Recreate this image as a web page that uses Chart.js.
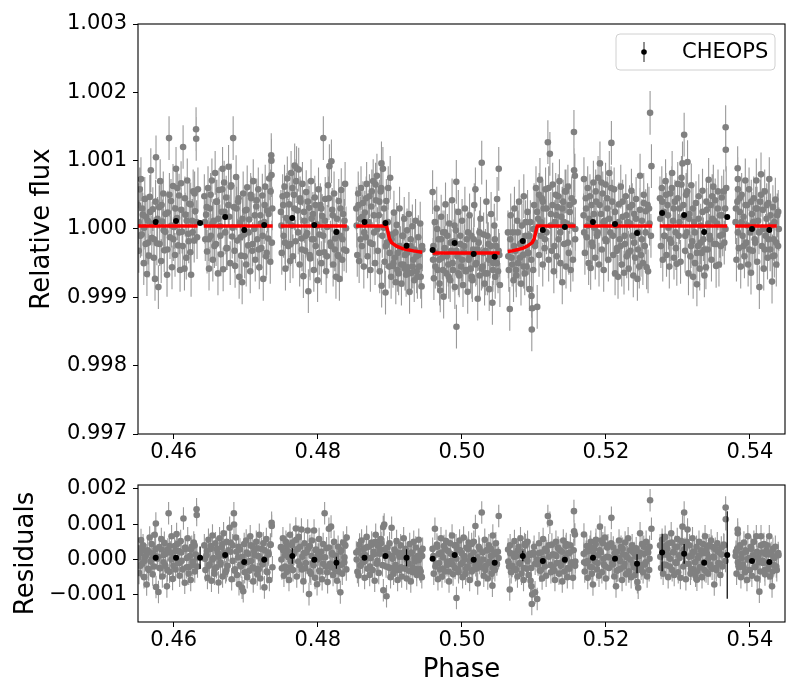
<!DOCTYPE html>
<html>
<head>
<meta charset="utf-8">
<title>CHEOPS phase curve</title>
<script src="https://cdn.jsdelivr.net/npm/chart.js@4.4.1/dist/chart.umd.min.js"></script>
<style>
  body { margin: 0; background: #fff; }
  #wrap { position: relative; width: 800px; height: 700px; }
  #wrap canvas { position: absolute; left: 0; }
</style>
</head>
<body>
<div id="wrap">
  <canvas id="fluxChart" width="800" height="465" style="top:0"></canvas>
  <canvas id="residChart" width="800" height="235" style="top:465px"></canvas>
</div>
<script>
// axis ranges and ticks
const xMin = 0.45504, xMax = 0.54486;
const xTicks = [0.46, 0.48, 0.50, 0.52, 0.54];
const fluxMin = 0.997, fluxMax = 1.003;
const fluxTicks = [0.997, 0.998, 0.999, 1.000, 1.001, 1.002, 1.003];
const residMin = -0.00177, residMax = 0.00211;
const residTicks = [-0.001, 0.000, 0.001, 0.002];

// typical error of a single CHEOPS point
const fluxErr = 0.00032;
const residErr = 0.00032;

// CHEOPS points [phase, relative flux], one line per visit
const fluxPoints = [
  [0.45505,1.00035],[0.45515,0.99968],[0.45528,1.00058],[0.45545,1.00073],[0.45556,0.99992],[0.45570,1.00021],[0.45584,0.99950],[0.45598,1.00044],[0.45610,0.99978],[0.45628,0.99934],[0.45640,1.00012],[0.45655,0.99961],[0.45668,1.00047],[0.45682,1.00086],[0.45695,0.99987],[0.45710,1.00029],[0.45724,0.99958],[0.45740,0.99927],[0.45754,1.00105],[0.45766,0.99979],[0.45787,0.99915],[0.45798,1.00032],[0.45812,1.00070],[0.45826,0.99953],[0.45840,1.00011],[0.45855,1.00052],[0.45868,0.99969],[0.45882,0.99996],[0.45907,0.99933],[0.45918,1.00024],[0.45935,1.00133],[0.45948,0.99988],[0.45962,1.00041],[0.45976,0.99944],[0.45990,1.00063],[0.46004,1.00003],[0.46018,0.99962],[0.46032,1.00088],[0.46046,1.00016],[0.46060,0.99976],[0.46074,1.00049],[0.46088,0.99940],[0.46102,1.00067],[0.46116,0.99996],[0.46130,1.00120],[0.46149,0.99942],[0.46160,1.00021],[0.46174,0.99958],[0.46188,1.00071],[0.46202,0.99993],[0.46216,1.00037],[0.46230,0.99966],[0.46241,0.99933],[0.46256,1.00012],[0.46270,1.00055],[0.46284,0.99983],[0.46298,1.00026],[0.46310,1.00146],[0.46312,1.00132],[0.46324,0.99988],[0.46336,1.00058],
  [0.46425,1.00048],[0.46438,0.99985],[0.46450,1.00021],[0.46463,0.99967],[0.46476,1.00060],[0.46490,0.99942],[0.46503,1.00030],[0.46516,0.99990],[0.46530,1.00071],[0.46543,0.99955],[0.46556,1.00012],[0.46575,1.00082],[0.46588,0.99978],[0.46600,1.00040],[0.46614,0.99935],[0.46628,1.00057],[0.46642,1.00004],[0.46655,0.99963],[0.46668,1.00025],[0.46678,1.00088],[0.46686,0.99941],[0.46700,1.00068],[0.46714,0.99995],[0.46728,1.00046],[0.46742,0.99972],[0.46761,1.00091],[0.46770,1.00018],[0.46784,0.99950],[0.46798,1.00064],[0.46812,0.99989],[0.46825,1.00133],[0.46838,1.00032],[0.46852,0.99946],[0.46866,1.00076],[0.46880,0.99983],[0.46894,1.00040],[0.46908,0.99930],[0.46922,1.00009],[0.46936,0.99961],[0.46950,0.99922],[0.46964,1.00052],[0.46978,0.99992],[0.46992,1.00027],[0.47006,0.99948],[0.47020,1.00061],[0.47034,0.99976],[0.47048,1.00014],[0.47062,0.99938],[0.47076,1.00045],[0.47090,0.99968],[0.47104,1.00070],[0.47118,1.00000],[0.47132,0.99955],[0.47146,1.00033],[0.47160,0.99985],[0.47174,1.00058],[0.47188,0.99944],[0.47202,1.00020],[0.47216,0.99972],[0.47230,1.00049],[0.47243,0.99927],[0.47256,1.00010],[0.47270,1.00062],[0.47284,0.99960],[0.47298,1.00027],[0.47312,0.99986],[0.47326,1.00074],[0.47340,0.99952],[0.47354,1.00108],[0.47356,1.00100],[0.47358,1.00079],[0.47362,0.99980],[0.47368,1.00030],
  [0.47488,1.00025],[0.47500,0.99965],[0.47512,1.00048],[0.47525,0.99990],[0.47538,1.00062],[0.47551,0.99942],[0.47564,1.00016],[0.47577,1.00074],[0.47590,0.99975],[0.47603,1.00036],[0.47616,0.99953],[0.47629,1.00082],[0.47642,1.00005],[0.47655,0.99960],[0.47668,1.00050],[0.47679,1.00093],[0.47692,0.99982],[0.47705,1.00089],[0.47718,1.00027],[0.47735,1.00087],[0.47748,0.99948],[0.47761,1.00040],[0.47774,0.99986],[0.47787,1.00066],[0.47800,0.99931],[0.47813,1.00012],[0.47826,0.99968],[0.47839,1.00054],[0.47852,0.99994],[0.47869,0.99909],[0.47880,1.00031],[0.47893,0.99957],[0.47906,1.00070],[0.47919,0.99985],[0.47932,1.00022],[0.47945,0.99940],[0.47958,1.00046],[0.47971,0.99975],[0.47984,1.00007],[0.47997,0.99925],[0.48010,1.00058],[0.48023,0.99992],[0.48036,1.00035],[0.48049,0.99950],[0.48062,1.00019],[0.48077,1.00133],[0.48090,0.99966],[0.48103,1.00044],[0.48116,0.99938],[0.48129,1.00003],[0.48142,1.00064],[0.48161,1.00092],[0.48175,0.99980],[0.48189,1.00099],[0.48200,1.00028],[0.48213,0.99948],[0.48226,1.00052],[0.48239,0.99986],[0.48252,0.99930],[0.48265,1.00015],[0.48278,0.99962],[0.48291,1.00041],[0.48300,0.99927],[0.48313,0.99990],[0.48326,1.00057],[0.48339,0.99955],[0.48352,1.00022],[0.48365,0.99970],[0.48379,1.00066],[0.48392,1.00001],
  [0.48535,1.00030],[0.48548,0.99962],[0.48561,1.00052],[0.48574,0.99953],[0.48587,1.00015],[0.48600,1.00060],[0.48613,0.99975],[0.48626,1.00038],[0.48639,0.99945],[0.48652,1.00024],[0.48665,0.99988],[0.48678,1.00066],[0.48691,0.99960],[0.48704,1.00010],[0.48717,1.00048],[0.48730,0.99940],[0.48743,1.00033],[0.48756,0.99978],[0.48769,1.00070],[0.48782,0.99995],[0.48795,0.99950],[0.48808,1.00042],[0.48821,1.00078],[0.48834,0.99968],[0.48847,1.00020],[0.48860,0.99938],[0.48873,1.00055],[0.48884,1.00096],[0.48886,0.99917],[0.48904,1.00088],[0.48915,1.00002],[0.48928,0.99952],[0.48940,0.99907],[0.48952,1.00041],[0.48965,0.99980],[0.48978,1.00060],[0.48991,0.99945],[0.49005,1.00075],[0.49018,0.99930],[0.49031,0.99992],[0.49044,0.99946],[0.49057,1.00024],[0.49070,0.99958],[0.49083,0.99922],[0.49096,1.00006],[0.49109,0.99965],[0.49122,0.99935],[0.49135,1.00030],[0.49148,0.99972],[0.49161,0.99920],[0.49174,0.99990],[0.49187,0.99948],[0.49200,1.00015],[0.49213,0.99962],[0.49226,0.99933],[0.49239,0.99998],[0.49252,0.99944],[0.49265,1.00022],[0.49274,0.99908],[0.49287,0.99975],[0.49300,0.99936],[0.49313,1.00004],[0.49326,0.99955],[0.49339,0.99925],[0.49357,1.00012],[0.49370,0.99960],[0.49383,0.99930],[0.49396,0.99988],[0.49409,0.99945],[0.49422,1.00008],[0.49441,0.99916],[0.49452,0.99970],
  [0.49594,1.00054],[0.49600,0.99955],[0.49612,0.99928],[0.49625,1.00010],[0.49638,0.99965],[0.49651,1.00030],[0.49664,0.99940],[0.49677,0.99985],[0.49690,0.99920],[0.49700,0.99910],[0.49713,1.00018],[0.49726,0.99958],[0.49739,0.99995],[0.49747,0.99901],[0.49760,0.99972],[0.49773,1.00036],[0.49786,0.99935],[0.49799,0.99990],[0.49812,0.99948],[0.49825,1.00008],[0.49838,0.99925],[0.49851,0.99968],[0.49864,1.00042],[0.49877,0.99940],[0.49890,0.99982],[0.49903,0.99915],[0.49916,0.99998],[0.49923,1.00069],[0.49925,0.99857],[0.49938,0.99960],[0.49951,1.00025],[0.49964,0.99932],[0.49977,0.99978],[0.49990,0.99945],[0.50003,1.00012],[0.50016,0.99918],[0.50029,0.99966],[0.50042,1.00030],[0.50055,0.99938],[0.50068,0.99985],[0.50081,0.99908],[0.50094,0.99955],[0.50107,1.00020],[0.50120,0.99942],[0.50133,0.99990],[0.50146,0.99925],[0.50159,0.99970],[0.50172,1.00035],[0.50188,1.00058],[0.50200,0.99950],[0.50220,0.99898],[0.50233,0.99980],[0.50246,0.99932],[0.50259,1.00015],[0.50276,1.00097],[0.50289,0.99945],[0.50302,0.99992],[0.50315,0.99920],[0.50328,0.99968],[0.50341,1.00040],[0.50354,0.99935],[0.50367,0.99978],[0.50380,0.99912],[0.50393,0.99960],[0.50406,1.00022],[0.50424,0.99892],[0.50437,0.99950],[0.50450,1.00005],[0.50463,0.99930],[0.50476,0.99975],[0.50489,1.00044],[0.50502,0.99938],[0.50512,1.00088],[0.50520,0.99962],[0.50528,0.99918],
  [0.50640,0.99995],[0.50652,0.99940],[0.50665,0.99883],[0.50678,1.00020],[0.50691,0.99958],[0.50704,0.99995],[0.50717,0.99925],[0.50730,1.00030],[0.50743,0.99968],[0.50756,0.99932],[0.50769,1.00012],[0.50782,0.99950],[0.50795,1.00040],[0.50808,0.99978],[0.50821,0.99920],[0.50834,1.00005],[0.50847,0.99962],[0.50860,1.00048],[0.50873,0.99935],[0.50886,0.99990],[0.50899,0.99945],[0.50912,1.00025],[0.50925,0.99965],[0.50938,0.99912],[0.50951,1.00010],[0.50967,0.99902],[0.50971,0.99853],[0.50977,0.99884],[0.50990,0.99940],[0.51003,1.00035],[0.51016,0.99975],[0.51029,1.00060],[0.51046,0.99886],[0.51058,1.00015],[0.51071,0.99962],[0.51084,1.00072],[0.51097,0.99990],[0.51110,1.00045],[0.51123,0.99948],[0.51136,1.00030],[0.51149,0.99972],[0.51162,1.00058],[0.51175,0.99995],[0.51194,1.00127],[0.51205,0.99955],[0.51222,1.00110],[0.51235,1.00022],[0.51248,0.99968],[0.51261,1.00065],[0.51277,0.99938],[0.51290,1.00010],[0.51303,1.00050],[0.51316,0.99960],[0.51329,1.00032],[0.51342,0.99985],[0.51355,1.00070],[0.51368,0.99950],[0.51381,1.00018],[0.51394,0.99922],[0.51407,1.00040],[0.51420,0.99978],[0.51433,1.00055],[0.51446,0.99945],[0.51459,1.00008],[0.51472,1.00062],[0.51485,0.99965],[0.51498,1.00025],[0.51511,0.99940],[0.51524,1.00045],[0.51542,0.99955],[0.51556,1.00142],[0.51558,1.00086],[0.51569,1.00078],[0.51575,1.00000],
  [0.51690,1.00020],[0.51695,1.00073],[0.51708,0.99965],[0.51721,1.00045],[0.51734,0.99988],[0.51747,1.00060],[0.51760,0.99950],[0.51773,1.00015],[0.51788,0.99943],[0.51800,1.00035],[0.51813,0.99975],[0.51826,1.00068],[0.51839,1.00002],[0.51852,0.99958],[0.51865,1.00040],[0.51878,0.99990],[0.51891,1.00075],[0.51904,0.99948],[0.51917,1.00096],[0.51930,1.00022],[0.51943,0.99970],[0.51956,1.00052],[0.51969,0.99940],[0.51982,1.00012],[0.51995,1.00065],[0.52008,0.99982],[0.52021,1.00030],[0.52034,0.99955],[0.52047,1.00082],[0.52060,0.99995],[0.52076,1.00126],[0.52088,1.00040],[0.52101,0.99962],[0.52114,1.00058],[0.52127,0.99935],[0.52140,1.00005],[0.52153,0.99972],[0.52168,0.99930],[0.52180,1.00036],[0.52193,0.99985],[0.52206,1.00062],[0.52219,0.99948],[0.52232,1.00018],[0.52251,0.99936],[0.52263,0.99978],[0.52276,1.00048],[0.52289,0.99960],[0.52302,1.00010],[0.52315,0.99942],[0.52328,1.00032],[0.52341,0.99968],[0.52354,1.00056],[0.52367,0.99990],[0.52380,0.99932],[0.52393,1.00022],[0.52406,0.99958],[0.52419,1.00044],[0.52437,0.99927],[0.52450,0.99995],[0.52463,0.99945],[0.52474,1.00078],[0.52487,0.99962],[0.52500,1.00012],[0.52513,0.99950],[0.52526,1.00038],[0.52539,0.99975],[0.52552,1.00026],[0.52565,0.99944],[0.52585,0.99938],[0.52598,1.00030],[0.52613,1.00170],[0.52625,0.99990],[0.52632,1.00092],
  [0.52750,1.00045],[0.52763,0.99975],[0.52776,1.00060],[0.52789,0.99955],[0.52802,1.00025],[0.52815,0.99990],[0.52828,1.00070],[0.52841,0.99962],[0.52854,1.00035],[0.52867,1.00002],[0.52880,0.99945],[0.52893,1.00052],[0.52906,0.99980],[0.52919,1.00082],[0.52932,1.00012],[0.52945,0.99958],[0.52958,1.00040],[0.52971,0.99972],[0.52984,0.99949],[0.52997,1.00066],[0.53010,0.99990],[0.53023,1.00030],[0.53036,0.99952],[0.53049,1.00075],[0.53063,1.00096],[0.53075,1.00018],[0.53086,1.00138],[0.53099,0.99968],[0.53112,1.00050],[0.53125,0.99995],[0.53133,1.00098],[0.53146,0.99935],[0.53159,1.00022],[0.53172,0.99960],[0.53185,1.00064],[0.53198,0.99982],[0.53211,0.99930],[0.53224,1.00010],[0.53237,0.99950],[0.53250,1.00038],[0.53263,0.99919],[0.53276,0.99975],[0.53289,1.00048],[0.53302,0.99942],[0.53315,1.00005],[0.53328,0.99965],[0.53341,1.00056],[0.53354,0.99985],[0.53367,0.99932],[0.53388,0.99944],[0.53400,1.00028],[0.53413,0.99970],[0.53426,1.00072],[0.53439,0.99990],[0.53452,1.00035],[0.53465,0.99955],[0.53478,1.00015],[0.53491,1.00062],[0.53504,0.99978],[0.53517,1.00042],[0.53530,0.99946],[0.53543,1.00008],[0.53556,1.00055],[0.53569,0.99948],[0.53582,1.00020],[0.53595,0.99975],[0.53608,1.00046],[0.53621,0.99992],[0.53643,0.99980],[0.53655,1.00030],[0.53662,1.00149],[0.53664,1.00116],[0.53670,1.00060],
  [0.53800,1.00010],[0.53812,0.99955],[0.53825,1.00040],[0.53829,1.00089],[0.53831,1.00073],[0.53833,1.00058],[0.53845,0.99972],[0.53858,1.00025],[0.53871,0.99945],[0.53884,1.00050],[0.53897,0.99990],[0.53910,1.00018],[0.53923,0.99960],[0.53935,1.00071],[0.53948,0.99980],[0.53961,1.00035],[0.53974,0.99948],[0.53987,1.00058],[0.54000,0.99995],[0.54014,0.99936],[0.54026,1.00022],[0.54039,0.99968],[0.54052,1.00045],[0.54065,0.99985],[0.54078,1.00030],[0.54088,1.00071],[0.54100,0.99952],[0.54113,1.00012],[0.54130,0.99915],[0.54142,1.00040],[0.54153,1.00080],[0.54165,0.99975],[0.54178,1.00028],[0.54191,0.99942],[0.54204,1.00055],[0.54217,0.99990],[0.54230,1.00015],[0.54243,0.99958],[0.54256,1.00038],[0.54268,1.00073],[0.54280,0.99970],[0.54293,1.00005],[0.54306,0.99923],[0.54318,1.00032],[0.54330,0.99985],[0.54338,0.99961],[0.54352,1.00043],[0.54365,0.99948],[0.54378,1.00020],[0.54390,0.99975],[0.54400,1.00000],
  // denser core of each visit
  [0.45512,1.00010],[0.45538,0.99990],[0.45562,1.00030],[0.45590,1.00002],[0.45615,1.00018],[0.45645,0.99980],[0.45672,1.00025],[0.45700,1.00008],[0.45728,0.99985],[0.45748,1.00040],[0.45775,1.00015],[0.45805,0.99978],[0.45832,1.00035],[0.45860,0.99998],[0.45888,1.00022],[0.45912,0.99970],[0.45940,1.00050],[0.45968,1.00005],[0.45995,0.99985],[0.46022,1.00030],[0.46050,1.00060],[0.46078,0.99995],[0.46105,1.00028],[0.46125,0.99975],[0.46155,1.00045],[0.46180,1.00012],[0.46208,0.99982],[0.46235,1.00036],[0.46262,0.99995],[0.46290,1.00052],[0.46318,1.00010],
  [0.46432,1.00010],[0.46458,1.00032],[0.46485,0.99985],[0.46512,1.00050],[0.46538,1.00008],[0.46565,0.99975],[0.46592,1.00040],[0.46620,1.00015],[0.46648,0.99990],[0.46675,1.00058],[0.46705,1.00025],[0.46732,0.99972],[0.46758,1.00035],[0.46790,1.00062],[0.46818,1.00002],[0.46845,0.99968],[0.46872,1.00030],[0.46900,1.00045],[0.46928,0.99988],[0.46955,1.00015],[0.46985,0.99960],[0.47012,1.00028],[0.47040,0.99995],[0.47068,1.00050],[0.47095,0.99978],[0.47125,1.00020],[0.47152,1.00042],[0.47180,0.99970],[0.47208,1.00008],[0.47235,0.99990],[0.47262,1.00035],[0.47290,0.99965],[0.47318,1.00022],[0.47345,1.00055],
  [0.47495,1.00005],[0.47520,1.00035],[0.47545,0.99980],[0.47570,1.00050],[0.47595,1.00012],[0.47622,0.99978],[0.47648,1.00060],[0.47675,1.00030],[0.47700,1.00070],[0.47728,0.99995],[0.47755,1.00045],[0.47780,0.99970],[0.47808,1.00025],[0.47835,0.99990],[0.47862,1.00040],[0.47888,0.99962],[0.47915,1.00015],[0.47942,0.99985],[0.47968,1.00035],[0.47995,1.00005],[0.48020,0.99965],[0.48048,1.00030],[0.48075,0.99990],[0.48100,1.00012],[0.48128,0.99960],[0.48155,1.00045],[0.48182,0.99975],[0.48208,1.00020],[0.48235,0.99970],[0.48262,0.99995],[0.48288,0.99960],[0.48315,1.00030],[0.48342,0.99985],[0.48370,1.00012],[0.48396,0.99968],
  [0.48540,1.00005],[0.48566,1.00035],[0.48592,0.99985],[0.48618,1.00018],[0.48645,0.99995],[0.48672,1.00045],[0.48698,1.00010],[0.48725,0.99980],[0.48750,1.00055],[0.48778,1.00020],[0.48802,1.00065],[0.48828,1.00000],[0.48855,1.00040],[0.48880,1.00060],[0.48895,0.99990],[0.48920,1.00030],[0.48945,0.99975],[0.48972,1.00010],[0.48998,0.99965],[0.49025,0.99985],[0.49050,0.99950],[0.49078,0.99995],[0.49105,0.99940],[0.49130,0.99975],[0.49158,0.99948],[0.49185,0.99990],[0.49210,0.99942],[0.49238,0.99965],[0.49262,0.99935],[0.49290,0.99985],[0.49318,0.99945],[0.49345,0.99970],[0.49372,0.99938],[0.49400,0.99962],[0.49428,0.99930],[0.49448,0.99975],
  [0.49605,0.99975],[0.49632,0.99945],[0.49658,1.00000],[0.49685,0.99955],[0.49712,0.99985],[0.49738,0.99940],[0.49765,0.99995],[0.49792,0.99960],[0.49818,0.99930],[0.49845,0.99980],[0.49872,0.99950],[0.49898,1.00005],[0.49925,0.99968],[0.49952,0.99935],[0.49978,0.99990],[0.50005,0.99955],[0.50032,0.99975],[0.50058,0.99940],[0.50085,0.99995],[0.50112,0.99960],[0.50138,0.99930],[0.50165,0.99985],[0.50192,0.99948],[0.50218,0.99970],[0.50245,0.99995],[0.50272,0.99942],[0.50298,0.99965],[0.50325,0.99935],[0.50352,0.99990],[0.50378,0.99955],[0.50405,0.99975],[0.50432,0.99940],[0.50458,0.99985],[0.50485,0.99950],[0.50510,0.99968],
  [0.50645,0.99960],[0.50672,0.99985],[0.50698,0.99948],[0.50725,0.99975],[0.50752,0.99940],[0.50778,0.99995],[0.50805,0.99958],[0.50832,0.99980],[0.50858,0.99945],[0.50885,1.00010],[0.50912,0.99965],[0.50938,0.99990],[0.50965,0.99955],[0.50992,1.00000],[0.51018,0.99980],[0.51045,1.00025],[0.51072,1.00050],[0.51098,1.00010],[0.51125,1.00040],[0.51152,0.99985],[0.51178,1.00030],[0.51205,1.00060],[0.51232,1.00005],[0.51258,1.00035],[0.51285,0.99975],[0.51312,1.00020],[0.51338,1.00048],[0.51365,0.99995],[0.51392,1.00030],[0.51418,1.00010],[0.51445,1.00055],[0.51472,0.99980],[0.51498,1.00035],[0.51525,1.00005],[0.51552,1.00040],[0.51572,0.99985],
  [0.51698,0.99995],[0.51725,1.00030],[0.51752,1.00005],[0.51778,1.00048],[0.51805,0.99980],[0.51832,1.00022],[0.51858,1.00055],[0.51885,0.99995],[0.51912,1.00035],[0.51938,1.00068],[0.51965,1.00010],[0.51992,0.99985],[0.52018,1.00045],[0.52045,1.00015],[0.52072,1.00060],[0.52098,0.99990],[0.52125,1.00025],[0.52152,0.99968],[0.52178,1.00010],[0.52205,0.99975],[0.52232,1.00040],[0.52258,0.99990],[0.52285,1.00020],[0.52312,0.99965],[0.52338,1.00008],[0.52365,1.00035],[0.52392,0.99980],[0.52418,1.00015],[0.52445,0.99970],[0.52472,1.00028],[0.52498,0.99985],[0.52525,1.00050],[0.52552,0.99995],[0.52578,1.00035],[0.52605,1.00008],
  [0.52755,1.00015],[0.52782,1.00040],[0.52808,0.99990],[0.52835,1.00050],[0.52862,1.00020],[0.52888,0.99985],[0.52915,1.00060],[0.52942,1.00030],[0.52968,0.99995],[0.52995,1.00045],[0.53022,1.00010],[0.53048,1.00065],[0.53075,1.00035],[0.53102,0.99990],[0.53128,1.00055],[0.53155,1.00015],[0.53182,0.99975],[0.53208,1.00030],[0.53235,0.99995],[0.53262,0.99965],[0.53288,1.00015],[0.53315,0.99980],[0.53342,1.00025],[0.53368,0.99970],[0.53395,1.00040],[0.53422,1.00008],[0.53448,0.99985],[0.53475,1.00048],[0.53502,1.00012],[0.53528,0.99978],[0.53555,1.00030],[0.53582,0.99990],[0.53608,1.00020],[0.53635,1.00055],[0.53660,1.00000],
  [0.53805,1.00030],[0.53832,0.99995],[0.53858,1.00045],[0.53885,1.00010],[0.53912,0.99975],[0.53938,1.00035],[0.53965,1.00005],[0.53992,0.99970],[0.54018,1.00040],[0.54045,1.00010],[0.54072,0.99980],[0.54098,1.00030],[0.54125,0.99995],[0.54152,1.00050],[0.54178,1.00000],[0.54205,0.99970],[0.54232,1.00035],[0.54258,0.99985],[0.54285,1.00020],[0.54312,0.99960],[0.54338,1.00010],[0.54365,0.99980],[0.54392,1.00025]
];

// residuals [phase, data - model], one line per visit
const residPoints = [
  [0.45505,0.00032],[0.45518,-0.00038],[0.45532,0.00018],[0.45546,0.00055],[0.45560,-0.00012],[0.45574,0.00040],[0.45588,-0.00050],[0.45602,0.00008],[0.45624,-0.00071],[0.45638,0.00026],[0.45652,-0.00030],[0.45666,0.00062],[0.45680,-0.00006],[0.45694,0.00044],[0.45708,-0.00042],[0.45722,0.00015],[0.45736,0.00070],[0.45752,0.00102],[0.45754,-0.00078],[0.45770,0.00002],[0.45788,-0.00092],[0.45800,0.00035],[0.45814,-0.00025],[0.45828,0.00058],[0.45842,-0.00048],[0.45856,0.00012],[0.45870,0.00047],[0.45884,-0.00018],[0.45905,-0.00076],[0.45918,0.00028],[0.45929,0.00131],[0.45942,-0.00035],[0.45956,0.00020],[0.45970,0.00066],[0.45984,-0.00055],[0.45998,0.00005],[0.46012,0.00038],[0.46026,-0.00028],[0.46040,0.00072],[0.46054,-0.00010],[0.46068,0.00024],[0.46082,-0.00046],[0.46096,0.00052],[0.46110,-0.00004],[0.46135,0.00116],[0.46153,-0.00066],[0.46166,0.00030],[0.46180,-0.00022],[0.46194,0.00060],[0.46208,-0.00040],[0.46222,0.00010],[0.46236,-0.00058],[0.46250,0.00036],[0.46264,-0.00016],[0.46278,0.00048],[0.46292,-0.00034],[0.46306,0.00014],[0.46317,0.00142],[0.46319,0.00126],[0.46330,-0.00020],
  [0.46425,0.00040],[0.46440,-0.00030],[0.46454,0.00012],[0.46468,-0.00052],[0.46482,0.00056],[0.46496,-0.00014],[0.46510,0.00030],[0.46524,-0.00060],[0.46538,0.00068],[0.46552,0.00004],[0.46566,-0.00040],[0.46580,0.00046],[0.46594,-0.00022],[0.46608,0.00020],[0.46622,-0.00065],[0.46636,0.00060],[0.46650,-0.00008],[0.46664,0.00034],[0.46678,-0.00048],[0.46692,0.00074],[0.46706,0.00010],[0.46720,-0.00036],[0.46734,0.00050],[0.46748,-0.00018],[0.46776,0.00090],[0.46790,0.00022],[0.46804,-0.00056],[0.46818,0.00040],[0.46835,0.00131],[0.46837,0.00099],[0.46850,-0.00028],[0.46864,0.00062],[0.46878,-0.00044],[0.46892,0.00006],[0.46906,-0.00070],[0.46920,0.00028],[0.46934,-0.00020],[0.46948,-0.00080],[0.46965,-0.00090],[0.46978,0.00044],[0.46992,-0.00010],[0.47006,0.00054],[0.47020,-0.00050],[0.47034,0.00016],[0.47048,-0.00032],[0.47062,0.00066],[0.47076,-0.00004],[0.47090,0.00038],[0.47104,-0.00062],[0.47118,0.00024],[0.47132,-0.00026],[0.47146,0.00050],[0.47160,-0.00042],[0.47174,0.00010],[0.47188,0.00070],[0.47202,-0.00054],[0.47216,0.00030],[0.47230,-0.00014],[0.47244,0.00046],[0.47259,-0.00079],[0.47272,0.00002],[0.47286,0.00058],[0.47300,-0.00036],[0.47314,0.00020],[0.47328,-0.00058],[0.47342,0.00042],[0.47359,0.00104],[0.47361,0.00095],[0.47370,-0.00022],
  [0.47488,0.00035],[0.47502,-0.00025],[0.47516,0.00060],[0.47530,-0.00046],[0.47544,0.00012],[0.47558,0.00050],[0.47572,-0.00035],[0.47586,0.00024],[0.47600,-0.00058],[0.47614,0.00070],[0.47628,-0.00006],[0.47642,0.00040],[0.47656,-0.00030],[0.47670,0.00016],[0.47695,0.00088],[0.47708,-0.00048],[0.47722,0.00030],[0.47736,0.00064],[0.47750,-0.00016],[0.47773,0.00085],[0.47786,0.00008],[0.47800,-0.00062],[0.47814,0.00046],[0.47828,-0.00024],[0.47842,0.00020],[0.47860,0.00082],[0.47878,-0.00098],[0.47890,0.00038],[0.47904,-0.00040],[0.47918,0.00054],[0.47932,-0.00010],[0.47948,0.00082],[0.47962,-0.00052],[0.47976,0.00028],[0.47990,-0.00070],[0.48004,0.00014],[0.48018,0.00058],[0.48032,-0.00034],[0.48046,0.00006],[0.48060,-0.00056],[0.48074,0.00044],[0.48095,0.00131],[0.48108,-0.00020],[0.48122,0.00032],[0.48136,-0.00064],[0.48154,0.00087],[0.48170,-0.00012],[0.48184,0.00093],[0.48198,0.00018],[0.48212,-0.00044],[0.48226,0.00050],[0.48240,-0.00028],[0.48254,0.00010],[0.48268,-0.00060],[0.48282,0.00036],[0.48296,-0.00018],[0.48313,-0.00093],[0.48326,0.00026],[0.48340,-0.00040],[0.48354,0.00048],[0.48368,-0.00008],[0.48382,0.00040],[0.48401,0.00062],
  [0.48535,0.00020],[0.48550,-0.00035],[0.48566,-0.00045],[0.48580,0.00042],[0.48594,-0.00018],[0.48608,0.00054],[0.48622,-0.00008],[0.48636,0.00030],[0.48650,-0.00052],[0.48664,0.00012],[0.48678,0.00064],[0.48692,-0.00026],[0.48706,0.00036],[0.48720,-0.00044],[0.48734,0.00004],[0.48748,0.00048],[0.48762,-0.00030],[0.48776,0.00022],[0.48790,-0.00060],[0.48804,0.00070],[0.48818,-0.00012],[0.48832,0.00040],[0.48846,-0.00038],[0.48860,0.00016],[0.48874,0.00058],[0.48908,0.00092],[0.48910,-0.00087],[0.48922,0.00099],[0.48936,0.00010],[0.48954,-0.00104],[0.48968,0.00034],[0.48982,-0.00022],[0.48996,0.00046],[0.49010,-0.00050],[0.49025,0.00090],[0.49038,0.00002],[0.49052,-0.00040],[0.49066,0.00028],[0.49080,-0.00016],[0.49094,0.00052],[0.49108,-0.00058],[0.49122,0.00018],[0.49136,-0.00030],[0.49150,0.00040],[0.49164,-0.00048],[0.49178,0.00008],[0.49192,0.00060],[0.49206,-0.00024],[0.49220,0.00030],[0.49234,-0.00054],[0.49248,0.00014],[0.49262,-0.00012],[0.49276,0.00044],[0.49291,-0.00062],[0.49304,0.00020],[0.49318,-0.00036],[0.49332,0.00050],[0.49346,-0.00006],[0.49360,0.00034],[0.49374,-0.00044],[0.49388,0.00010],[0.49402,0.00056],[0.49416,-0.00028],[0.49430,0.00024],[0.49444,-0.00050],[0.49455,0.00030],
  [0.49594,0.00030],[0.49610,-0.00040],[0.49626,0.00087],[0.49640,-0.00012],[0.49654,0.00042],[0.49668,-0.00056],[0.49682,0.00016],[0.49696,-0.00028],[0.49710,0.00060],[0.49724,-0.00048],[0.49738,0.00006],[0.49752,0.00038],[0.49766,-0.00034],[0.49780,0.00052],[0.49794,-0.00016],[0.49808,0.00024],[0.49822,-0.00062],[0.49836,0.00046],[0.49850,-0.00004],[0.49864,0.00068],[0.49878,-0.00042],[0.49892,0.00012],[0.49906,-0.00024],[0.49920,0.00040],[0.49925,-0.00109],[0.49940,0.00028],[0.49954,-0.00036],[0.49968,0.00054],[0.49982,-0.00014],[0.49996,0.00018],[0.50010,-0.00050],[0.50024,0.00062],[0.50038,0.00000],[0.50052,-0.00040],[0.50066,0.00034],[0.50080,-0.00020],[0.50094,0.00048],[0.50108,-0.00058],[0.50122,0.00010],[0.50136,0.00044],[0.50150,-0.00030],[0.50166,0.00050],[0.50188,0.00095],[0.50205,-0.00026],[0.50220,-0.00068],[0.50234,0.00036],[0.50248,-0.00010],[0.50276,0.00133],[0.50290,0.00020],[0.50304,-0.00046],[0.50318,0.00056],[0.50332,-0.00018],[0.50346,0.00026],[0.50360,-0.00054],[0.50374,0.00040],[0.50388,-0.00006],[0.50402,0.00030],[0.50414,-0.00040],[0.50424,-0.00074],[0.50430,0.00068],[0.50444,0.00014],[0.50458,-0.00030],[0.50472,0.00046],[0.50486,-0.00012],[0.50500,0.00022],[0.50512,0.00123],
  [0.50642,0.00028],[0.50656,-0.00020],[0.50665,-0.00085],[0.50670,0.00040],[0.50685,-0.00036],[0.50716,0.00016],[0.50730,0.00052],[0.50744,-0.00030],[0.50758,0.00010],[0.50772,-0.00048],[0.50786,0.00036],[0.50800,-0.00012],[0.50814,0.00060],[0.50828,-0.00040],[0.50842,0.00022],[0.50856,-0.00058],[0.50870,0.00044],[0.50884,0.00002],[0.50898,-0.00026],[0.50912,0.00050],[0.50926,-0.00044],[0.50940,0.00012],[0.50954,-0.00060],[0.50967,-0.00076],[0.50971,-0.00126],[0.50977,-0.00099],[0.50990,0.00020],[0.51003,0.00036],[0.51016,-0.00093],[0.51046,-0.00112],[0.51058,-0.00014],[0.51071,0.00046],[0.51084,-0.00032],[0.51100,0.00020],[0.51114,-0.00054],[0.51128,0.00058],[0.51142,-0.00008],[0.51156,0.00030],[0.51170,-0.00046],[0.51194,0.00123],[0.51208,0.00008],[0.51222,0.00104],[0.51236,-0.00036],[0.51250,0.00042],[0.51264,-0.00022],[0.51278,0.00014],[0.51292,-0.00058],[0.51306,0.00050],[0.51320,-0.00010],[0.51334,0.00034],[0.51348,-0.00040],[0.51362,0.00026],[0.51376,-0.00018],[0.51394,-0.00062],[0.51408,0.00054],[0.51422,-0.00034],[0.51436,0.00006],[0.51450,0.00044],[0.51464,-0.00050],[0.51478,0.00018],[0.51492,-0.00026],[0.51506,0.00040],[0.51520,-0.00012],[0.51542,-0.00052],[0.51556,0.00137],[0.51558,0.00080],[0.51569,0.00071],[0.51575,-0.00006],
  [0.51692,0.00016],[0.51695,0.00071],[0.51706,-0.00034],[0.51720,-0.00010],[0.51734,0.00038],[0.51748,-0.00052],[0.51762,0.00024],[0.51776,-0.00020],[0.51790,0.00050],[0.51804,-0.00040],[0.51820,-0.00071],[0.51834,0.00030],[0.51848,-0.00006],[0.51862,0.00056],[0.51876,-0.00028],[0.51890,0.00012],[0.51904,-0.00046],[0.51917,0.00093],[0.51930,0.00020],[0.51944,-0.00036],[0.51958,0.00046],[0.51972,-0.00014],[0.51986,0.00062],[0.52000,-0.00054],[0.52014,0.00008],[0.52028,0.00040],[0.52042,-0.00024],[0.52076,0.00118],[0.52088,-0.00010],[0.52102,0.00034],[0.52116,-0.00048],[0.52140,-0.00076],[0.52154,0.00022],[0.52168,-0.00030],[0.52182,0.00054],[0.52196,-0.00004],[0.52210,0.00036],[0.52224,-0.00058],[0.52238,0.00014],[0.52252,-0.00020],[0.52266,0.00048],[0.52280,-0.00042],[0.52294,0.00006],[0.52308,0.00060],[0.52322,-0.00034],[0.52336,0.00026],[0.52350,-0.00050],[0.52364,0.00040],[0.52378,-0.00012],[0.52392,0.00018],[0.52406,-0.00044],[0.52420,0.00032],[0.52437,-0.00064],[0.52448,-0.00080],[0.52462,0.00010],[0.52474,0.00074],[0.52488,-0.00026],[0.52502,0.00044],[0.52516,-0.00036],[0.52530,0.00016],[0.52544,-0.00014],[0.52558,0.00050],[0.52572,-0.00048],[0.52586,0.00020],[0.52600,-0.00030],[0.52606,0.00036],[0.52613,0.00168],[0.52632,0.00087],
  [0.52752,0.00040],[0.52766,-0.00024],[0.52780,0.00056],[0.52794,-0.00040],[0.52808,0.00014],[0.52822,0.00064],[0.52836,-0.00016],[0.52850,0.00030],[0.52864,-0.00050],[0.52878,0.00046],[0.52892,0.00002],[0.52906,0.00074],[0.52920,-0.00030],[0.52934,0.00020],[0.52948,-0.00044],[0.52962,0.00036],[0.52976,-0.00010],[0.52990,0.00058],[0.53004,-0.00036],[0.53018,0.00012],[0.53034,-0.00052],[0.53048,0.00048],[0.53063,0.00093],[0.53074,-0.00020],[0.53086,0.00133],[0.53096,0.00030],[0.53110,-0.00056],[0.53120,0.00050],[0.53133,0.00085],[0.53146,-0.00012],[0.53160,0.00040],[0.53174,-0.00040],[0.53188,0.00010],[0.53202,0.00060],[0.53216,-0.00028],[0.53230,0.00022],[0.53244,-0.00046],[0.53258,0.00036],[0.53263,-0.00057],[0.53278,0.00004],[0.53292,0.00050],[0.53306,-0.00022],[0.53320,0.00026],[0.53334,-0.00050],[0.53348,0.00044],[0.53362,-0.00008],[0.53376,0.00066],[0.53390,-0.00034],[0.53404,0.00016],[0.53418,-0.00040],[0.53432,0.00040],[0.53446,-0.00014],[0.53460,0.00054],[0.53474,-0.00026],[0.53488,0.00008],[0.53504,-0.00071],[0.53518,0.00030],[0.53532,-0.00030],[0.53546,0.00046],[0.53560,-0.00010],[0.53574,0.00020],[0.53588,-0.00044],[0.53602,0.00034],[0.53616,-0.00020],[0.53640,0.00040],[0.53662,0.00147],[0.53664,0.00114],
  [0.53800,0.00010],[0.53814,-0.00040],[0.53822,0.00030],[0.53829,0.00085],[0.53831,0.00074],[0.53846,-0.00022],[0.53860,0.00040],[0.53874,-0.00050],[0.53888,0.00016],[0.53902,-0.00014],[0.53916,0.00048],[0.53930,-0.00036],[0.53944,0.00022],[0.53958,-0.00058],[0.53970,0.00066],[0.53984,0.00004],[0.53998,-0.00030],[0.54012,0.00036],[0.54026,-0.00046],[0.54040,0.00012],[0.54054,0.00050],[0.54068,-0.00020],[0.54088,0.00066],[0.54100,-0.00054],[0.54114,0.00006],[0.54130,-0.00091],[0.54142,-0.00034],[0.54153,0.00066],[0.54166,0.00020],[0.54180,-0.00010],[0.54194,0.00044],[0.54208,-0.00042],[0.54222,0.00014],[0.54236,0.00040],[0.54250,-0.00026],[0.54268,0.00066],[0.54280,-0.00048],[0.54294,0.00018],[0.54306,-0.00076],[0.54318,0.00030],[0.54330,-0.00016],[0.54342,0.00008],[0.54352,0.00036],[0.54372,-0.00030],[0.54395,0.00012],
  // denser core of each visit
  [0.45512,0.00005],[0.45538,-0.00018],[0.45565,0.00026],[0.45592,-0.00004],[0.45618,0.00012],[0.45645,-0.00026],[0.45672,0.00020],[0.45700,0.00002],[0.45728,-0.00020],[0.45748,0.00030],[0.45778,0.00008],[0.45805,-0.00024],[0.45832,0.00028],[0.45860,-0.00008],[0.45888,0.00016],[0.45912,-0.00030],[0.45940,0.00038],[0.45968,0.00000],[0.45995,-0.00018],[0.46022,0.00024],[0.46050,0.00044],[0.46078,-0.00010],[0.46105,0.00020],[0.46125,-0.00028],[0.46158,0.00034],[0.46182,0.00004],[0.46210,-0.00022],[0.46238,0.00028],[0.46265,-0.00006],[0.46290,0.00040],[0.46322,0.00006],
  [0.46432,0.00002],[0.46460,0.00024],[0.46488,-0.00018],[0.46515,0.00038],[0.46540,0.00000],[0.46568,-0.00026],[0.46595,0.00030],[0.46622,0.00008],[0.46650,-0.00014],[0.46678,0.00044],[0.46706,0.00018],[0.46732,-0.00030],[0.46760,0.00026],[0.46790,0.00048],[0.46818,-0.00004],[0.46846,-0.00032],[0.46872,0.00022],[0.46900,0.00036],[0.46928,-0.00014],[0.46955,0.00008],[0.46985,-0.00036],[0.47012,0.00020],[0.47040,-0.00006],[0.47068,0.00040],[0.47095,-0.00022],[0.47125,0.00012],[0.47152,0.00032],[0.47180,-0.00028],[0.47208,0.00002],[0.47235,-0.00012],[0.47262,0.00026],[0.47290,-0.00034],[0.47318,0.00014],[0.47345,0.00042],
  [0.47495,0.00000],[0.47520,0.00026],[0.47545,-0.00020],[0.47570,0.00040],[0.47595,0.00006],[0.47622,-0.00022],[0.47648,0.00048],[0.47675,0.00022],[0.47700,0.00056],[0.47728,-0.00006],[0.47755,0.00036],[0.47780,-0.00028],[0.47808,0.00018],[0.47835,-0.00010],[0.47862,0.00030],[0.47888,-0.00034],[0.47915,0.00010],[0.47942,-0.00016],[0.47968,0.00026],[0.47995,0.00000],[0.48020,-0.00032],[0.48048,0.00022],[0.48075,-0.00012],[0.48100,0.00006],[0.48128,-0.00036],[0.48155,0.00034],[0.48182,-0.00022],[0.48208,0.00014],[0.48235,-0.00026],[0.48262,-0.00004],[0.48288,-0.00034],[0.48315,0.00022],[0.48342,-0.00014],[0.48370,0.00006],[0.48396,-0.00028],
  [0.48540,0.00000],[0.48566,0.00026],[0.48592,-0.00016],[0.48618,0.00012],[0.48645,-0.00006],[0.48672,0.00034],[0.48698,0.00004],[0.48725,-0.00020],[0.48750,0.00042],[0.48778,0.00014],[0.48802,0.00050],[0.48828,-0.00004],[0.48855,0.00030],[0.48880,0.00046],[0.48898,-0.00016],[0.48922,0.00028],[0.48948,-0.00020],[0.48975,0.00016],[0.49000,-0.00024],[0.49028,0.00010],[0.49052,-0.00024],[0.49080,0.00022],[0.49105,-0.00030],[0.49132,0.00008],[0.49158,-0.00022],[0.49185,0.00020],[0.49212,-0.00026],[0.49238,0.00000],[0.49265,-0.00032],[0.49290,0.00018],[0.49318,-0.00022],[0.49345,0.00004],[0.49372,-0.00028],[0.49400,-0.00002],[0.49428,-0.00034],[0.49448,0.00010],
  [0.49605,0.00010],[0.49632,-0.00020],[0.49658,0.00036],[0.49685,-0.00010],[0.49712,0.00020],[0.49738,-0.00026],[0.49765,0.00030],[0.49792,-0.00006],[0.49818,-0.00034],[0.49845,0.00016],[0.49872,-0.00014],[0.49898,0.00040],[0.49925,0.00002],[0.49952,-0.00030],[0.49978,0.00026],[0.50005,-0.00010],[0.50032,0.00010],[0.50058,-0.00026],[0.50085,0.00030],[0.50112,-0.00004],[0.50138,-0.00034],[0.50165,0.00020],[0.50192,-0.00016],[0.50218,0.00006],[0.50245,0.00030],[0.50272,-0.00022],[0.50298,0.00000],[0.50325,-0.00030],[0.50352,0.00026],[0.50378,-0.00010],[0.50405,0.00010],[0.50432,-0.00024],[0.50458,0.00020],[0.50485,-0.00014],[0.50510,0.00004],
  [0.50645,-0.00006],[0.50672,0.00018],[0.50698,-0.00018],[0.50725,0.00008],[0.50752,-0.00028],[0.50778,0.00026],[0.50805,-0.00010],[0.50832,0.00012],[0.50858,-0.00024],[0.50885,0.00040],[0.50912,-0.00004],[0.50938,0.00016],[0.50965,-0.00024],[0.50992,0.00014],[0.51018,-0.00012],[0.51045,0.00000],[0.51072,0.00018],[0.51098,-0.00030],[0.51125,0.00002],[0.51152,-0.00020],[0.51178,0.00024],[0.51205,0.00040],[0.51232,-0.00016],[0.51258,0.00014],[0.51285,-0.00032],[0.51312,0.00010],[0.51338,0.00032],[0.51365,-0.00010],[0.51392,0.00022],[0.51418,-0.00004],[0.51445,0.00038],[0.51472,-0.00024],[0.51498,0.00020],[0.51525,-0.00008],[0.51552,0.00026],[0.51572,-0.00018],
  [0.51698,-0.00008],[0.51725,0.00022],[0.51752,-0.00004],[0.51778,0.00036],[0.51805,-0.00022],[0.51832,0.00014],[0.51858,0.00044],[0.51885,-0.00010],[0.51912,0.00026],[0.51938,0.00054],[0.51965,0.00002],[0.51992,-0.00020],[0.52018,0.00034],[0.52045,0.00006],[0.52072,0.00046],[0.52098,-0.00014],[0.52125,0.00018],[0.52152,-0.00032],[0.52178,0.00004],[0.52205,-0.00026],[0.52232,0.00030],[0.52258,-0.00012],[0.52285,0.00012],[0.52312,-0.00034],[0.52338,0.00000],[0.52365,0.00024],[0.52392,-0.00022],[0.52418,0.00008],[0.52445,-0.00030],[0.52472,0.00020],[0.52498,-0.00016],[0.52525,0.00036],[0.52552,-0.00008],[0.52578,0.00026],[0.52605,0.00002],
  [0.52755,0.00008],[0.52782,0.00030],[0.52808,-0.00014],[0.52835,0.00040],[0.52862,0.00012],[0.52888,-0.00020],[0.52915,0.00048],[0.52942,0.00022],[0.52968,-0.00008],[0.52995,0.00036],[0.53022,0.00004],[0.53048,0.00052],[0.53075,0.00026],[0.53102,-0.00012],[0.53128,0.00042],[0.53155,0.00008],[0.53182,-0.00026],[0.53208,0.00022],[0.53235,-0.00008],[0.53262,-0.00034],[0.53288,0.00010],[0.53315,-0.00022],[0.53342,0.00018],[0.53368,-0.00030],[0.53395,0.00030],[0.53422,0.00002],[0.53448,-0.00018],[0.53475,0.00036],[0.53502,0.00006],[0.53528,-0.00024],[0.53555,0.00022],[0.53582,-0.00012],[0.53608,0.00014],[0.53635,0.00042],[0.53660,-0.00004],
  [0.53805,0.00022],[0.53832,-0.00008],[0.53858,0.00034],[0.53885,0.00004],[0.53912,-0.00022],[0.53938,0.00026],[0.53965,0.00000],[0.53992,-0.00030],[0.54018,0.00030],[0.54045,0.00004],[0.54072,-0.00022],[0.54098,0.00022],[0.54125,-0.00008],[0.54152,0.00040],[0.54178,-0.00004],[0.54205,-0.00030],[0.54232,0.00026],[0.54258,-0.00014],[0.54285,0.00014],[0.54312,-0.00034],[0.54338,0.00004],[0.54365,-0.00020],[0.54392,0.00018]
];

// binned points (black)
const binPhase = [0.45750,0.46032,0.46366,0.46714,0.46978,0.47256,0.47646,0.47952,0.48258,0.48648,0.48940,0.49232,0.49594,0.49900,0.50164,0.50456,0.50846,0.51124,0.51430,0.51820,0.52126,0.52432,0.52780,0.53086,0.53364,0.53684,0.54028,0.54268];
const binFlux = [1.000102,1.000117,1.000088,1.000176,0.999985,1.000059,1.000161,1.000059,0.999956,1.000102,1.000088,0.999756,0.999693,0.999795,0.999634,0.999595,0.999824,0.999985,1.000029,1.000102,1.000073,0.999941,1.000234,1.000205,0.999956,1.000176,1.000000,0.999985];
const binResid = [0.00005,0.00005,0.00005,0.00013,-0.00007,-0.00001,0.00010,-0.00001,-0.00009,0.00005,0.00010,0.00005,0.00002,0.00013,-0.00001,-0.00009,0.00010,-0.00004,-0.00001,0.00005,0.00002,-0.00012,0.00020,0.00016,-0.00009,0.00013,-0.00004,-0.00007];
const binResidErr = [0.00006,0.00006,0.00032,0.00006,0.00006,0.00006,0.00022,0.00006,0.00017,0.00006,0.00006,0.00024,0.00006,0.00006,0.00006,0.00006,0.00015,0.00006,0.00006,0.00006,0.00006,0.00027,0.00053,0.00028,0.00006,0.00124,0.00006,0.00006];

// transit model, null marks the gap between visits
const modelCurve = [
  [0.45504,1.000044],[0.46330,1.000044],[0.46370,null],
  [0.46417,1.000044],[0.47373,1.000044],[0.47430,null],
  [0.47484,1.000044],[0.48403,1.000044],[0.48460,null],
  [0.48532,1.000044],[0.48954,1.000044],[0.48975,0.99995],[0.48995,0.99986],[0.49024,0.99980],[0.49093,0.99975],[0.49160,0.99972],[0.49232,0.99970],[0.49330,0.99968],[0.49450,0.99966],[0.49520,null],
  [0.49594,0.99965],[0.50526,0.99965],[0.50580,null],
  [0.50637,0.99967],[0.50700,0.99968],[0.50780,0.99970],[0.50850,0.99972],[0.50910,0.99975],[0.50976,0.99980],[0.51005,0.99986],[0.51025,0.99995],[0.51046,1.000044],[0.51579,1.000044],[0.51640,null],
  [0.51690,1.000044],[0.52641,1.000044],[0.52700,null],
  [0.52748,1.000044],[0.53684,1.000044],[0.53740,null],
  [0.53795,1.000044],[0.54371,1.000044]
];

Chart.defaults.font.family = "'DejaVu Sans', sans-serif";
Chart.defaults.color = '#000';

// vertical error bars, drawn just under the dataset that owns them
const errorBarPlugin = {
  id: 'errorBars',
  beforeDatasetDraw(chart, args) {
    const ds = chart.data.datasets[args.index];
    if (ds.errors === undefined) return;
    const ctx = chart.ctx, a = chart.chartArea, yScale = chart.scales.y;
    ctx.save();
    ctx.beginPath();
    ctx.rect(a.left, a.top, a.right - a.left, a.bottom - a.top);
    ctx.clip();
    ctx.strokeStyle = ds.errorColor;
    ctx.lineWidth = ds.errorWidth;
    ctx.beginPath();
    args.meta.data.forEach((pt, i) => {
      const v = ds.data[i][1];
      const e = Array.isArray(ds.errors) ? ds.errors[i] : ds.errors;
      ctx.moveTo(pt.x, yScale.getPixelForValue(v - e));
      ctx.lineTo(pt.x, yScale.getPixelForValue(v + e));
    });
    ctx.stroke();
    ctx.restore();
  }
};

// full black frame round the plot area
const framePlugin = {
  id: 'frame',
  afterDraw(chart) {
    const ctx = chart.ctx, a = chart.chartArea;
    ctx.save();
    ctx.strokeStyle = '#000';
    ctx.lineWidth = 1.1;
    ctx.strokeRect(a.left, a.top, a.right - a.left, a.bottom - a.top);
    ctx.restore();
  }
};

// matplotlib style legend box in the upper right corner
const legendPlugin = {
  id: 'cheopsLegend',
  afterDraw(chart) {
    const ctx = chart.ctx, a = chart.chartArea;
    const w = 159, h = 36, x = a.right - 10 - w, y = a.top + 10;
    ctx.save();
    ctx.beginPath();
    ctx.roundRect(x, y, w, h, 4);
    ctx.fillStyle = 'rgba(255,255,255,0.8)';
    ctx.fill();
    ctx.strokeStyle = '#d0d0d0';
    ctx.lineWidth = 1;
    ctx.stroke();
    ctx.strokeStyle = '#222';
    ctx.beginPath();
    ctx.moveTo(x + 28, y + 8);
    ctx.lineTo(x + 28, y + 28);
    ctx.stroke();
    ctx.fillStyle = '#000';
    ctx.beginPath();
    ctx.arc(x + 28, y + 18, 2.8, 0, Math.PI * 2);
    ctx.fill();
    ctx.font = "21px 'DejaVu Sans'";
    ctx.textBaseline = 'middle';
    ctx.fillText('CHEOPS', x + 66, y + 19);
    ctx.restore();
  }
};

const tickGrid = { display: true, drawOnChartArea: false, drawTicks: true, tickLength: 5, tickColor: '#000', tickWidth: 1 };

function xAxis(height, withTitle) {
  return {
    type: 'linear', min: xMin, max: xMax,
    afterBuildTicks: s => { s.ticks = xTicks.map(v => ({ value: v })); },
    afterFit: s => { s.height = height; },
    ticks: { callback: v => v.toFixed(2), font: { size: 21 }, padding: 1, maxRotation: 0, autoSkip: false },
    grid: tickGrid,
    border: { display: false },
    title: { display: withTitle, text: 'Phase', font: { size: 26 }, padding: { top: 0, bottom: 14 } }
  };
}

function yAxis(min, max, ticks, digits, label, titleGap) {
  return {
    type: 'linear', min: min, max: max,
    afterBuildTicks: s => { s.ticks = ticks.map(v => ({ value: v })); },
    afterFit: s => { s.width = 138; },
    ticks: {
      callback: v => (Math.abs(v) < 1e-12 ? 0 : v).toFixed(digits).replace('-', '\u2212'),
      font: { size: 21 }, padding: 6, autoSkip: false
    },
    grid: tickGrid,
    border: { display: false },
    title: { display: true, text: label, font: { size: 26 }, padding: { top: titleGap, bottom: 0 } }
  };
}

const common = {
  responsive: false,
  animation: false,
  events: [],
  plugins: { legend: { display: false }, tooltip: { enabled: false } }
};

new Chart(document.getElementById('fluxChart'), {
  type: 'scatter',
  data: {
    datasets: [
      { label: 'CHEOPS', data: fluxPoints, pointRadius: 3.3, backgroundColor: '#808080', borderWidth: 0,
        errors: fluxErr, errorColor: 'rgba(128,128,128,0.8)', errorWidth: 1.1, order: 3 },
      { label: 'model', type: 'line', data: modelCurve, borderColor: '#ff0000', borderWidth: 3.5,
        pointRadius: 0, spanGaps: false, tension: 0, fill: false, order: 2 },
      { label: 'binned', data: binPhase.map((p, i) => [p, binFlux[i]]), pointRadius: 3, backgroundColor: '#000',
        borderWidth: 0, order: 1 }
    ]
  },
  options: Object.assign({}, common, {
    layout: { padding: { top: 24, right: 15, left: 0, bottom: 0 } },
    scales: { x: xAxis(31, false), y: yAxis(fluxMin, fluxMax, fluxTicks, 3, 'Relative flux', 27) }
  }),
  plugins: [errorBarPlugin, framePlugin, legendPlugin]
});

new Chart(document.getElementById('residChart'), {
  type: 'scatter',
  data: {
    datasets: [
      { label: 'residuals', data: residPoints, pointRadius: 3.3, backgroundColor: '#808080', borderWidth: 0,
        errors: residErr, errorColor: 'rgba(128,128,128,0.8)', errorWidth: 1.1, order: 2 },
      { label: 'binned', data: binPhase.map((p, i) => [p, binResid[i]]), pointRadius: 3, backgroundColor: '#000',
        borderWidth: 0, errors: binResidErr, errorColor: '#000', errorWidth: 1.2, order: 1 }
    ]
  },
  options: Object.assign({}, common, {
    layout: { padding: { top: 20, right: 15, left: 0, bottom: 0 } },
    scales: { x: xAxis(78, true), y: yAxis(residMin, residMax, residTicks, 3, 'Residuals', 11) }
  }),
  plugins: [errorBarPlugin, framePlugin]
});
</script>
</body>
</html>
